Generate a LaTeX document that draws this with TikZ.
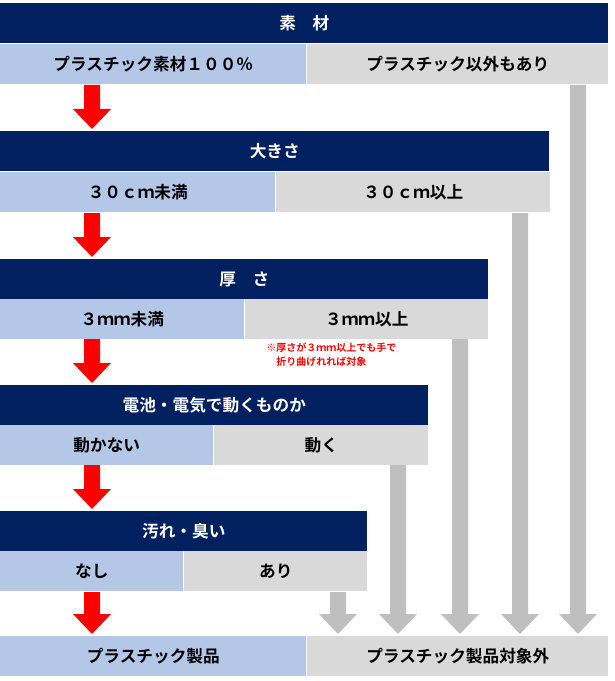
\documentclass[tikz,border=0pt]{standalone}
\usepackage{fontspec}
\setmainfont{Noto Sans CJK JP}[BoldFont={Noto Sans CJK JP Bold}]
\begin{document}
\begin{tikzpicture}[x=0.75pt,y=-0.75pt,
  cell/.style={anchor=north west,inner sep=0pt,minimum height=30pt,font=\bfseries\fontsize{12.5}{14}\selectfont},
  hdr/.style={cell,fill=navy,text=white},
  yes/.style={cell,fill=lblue},
  no/.style={cell,fill=lgray}]
\definecolor{navy}{HTML}{002060}
\definecolor{lblue}{HTML}{B4C7E7}
\definecolor{lgray}{HTML}{D9D9D9}
\definecolor{agray}{HTML}{BFBFBF}
\newcommand\blk[5]{\fill[#5] (#1-8,#2) -- (#1+8,#2) -- (#1+8,#3-20) -- (#1+#4,#3-20) -- (#1,#3) -- (#1-#4,#3-20) -- (#1-8,#3-20) -- cycle;}
\useasboundingbox (0,0) rectangle (614,681);
% block 1
\node[hdr,minimum width=456pt] (h1) at (0,3) {素　材};
\node[yes,minimum width=229.5pt] (y1) at (0,44) {プラスチック素材１００％};
\node[no,minimum width=225.75pt] (n1) at (307,44) {プラスチック以外もあり};
% block 2
\node[hdr,minimum width=411.75pt] (h2) at (0,131) {大きさ};
\node[yes,minimum width=206.25pt] (y2) at (0,172) {３０ｃｍ未満};
\node[no,minimum width=205.5pt] (n2) at (276,172) {３０ｃｍ以上};
% block 3
\node[hdr,minimum width=366pt] (h3) at (0,259) {厚　さ};
\node[yes,minimum width=183pt] (y3) at (0,299) {３ｍｍ未満};
\node[no,minimum width=182.25pt] (n3) at (245,299) {３ｍｍ以上};
\node[text=red,font=\bfseries\fontsize{7.5}{10}\selectfont,align=left,anchor=north west,inner sep=0pt] (note) at (266,343) {※厚さが３ｍｍ以上でも手で\\\hspace*{1em}折り曲げれれば対象};
% block 4
\node[hdr,minimum width=321pt] (h4) at (0,385) {電池・電気で動くものか};
\node[yes,minimum width=159.75pt] (y4) at (0,425) {動かない};
\node[no,minimum width=160.5pt] (n4) at (214,425) {動く};
% block 5
\node[hdr,minimum width=275.25pt] (h5) at (0,511) {汚れ・臭い};
\node[yes,minimum width=137.25pt] (y5) at (0,551) {なし};
\node[no,minimum width=137.25pt] (n5) at (184,551) {あり};
% result
\node[yes,minimum width=229.5pt] (r1) at (0,636) {プラスチック製品};
\node[no,minimum width=225.75pt] (r2) at (307,636) {プラスチック製品対象外};
% red arrows
\blk{92}{85}{129}{19}{red}
\blk{92}{213}{257}{19}{red}
\blk{92}{339}{383}{19}{red}
\blk{92}{465}{509}{19}{red}
\blk{92}{592}{634}{19}{red}
% gray arrows
\blk{578}{85}{634}{19}{agray}
\blk{520}{213}{634}{19}{agray}
\blk{460}{339}{634}{19}{agray}
\blk{398}{465}{634}{19}{agray}
\blk{338}{592}{634}{19}{agray}
\end{tikzpicture}
\end{document}
